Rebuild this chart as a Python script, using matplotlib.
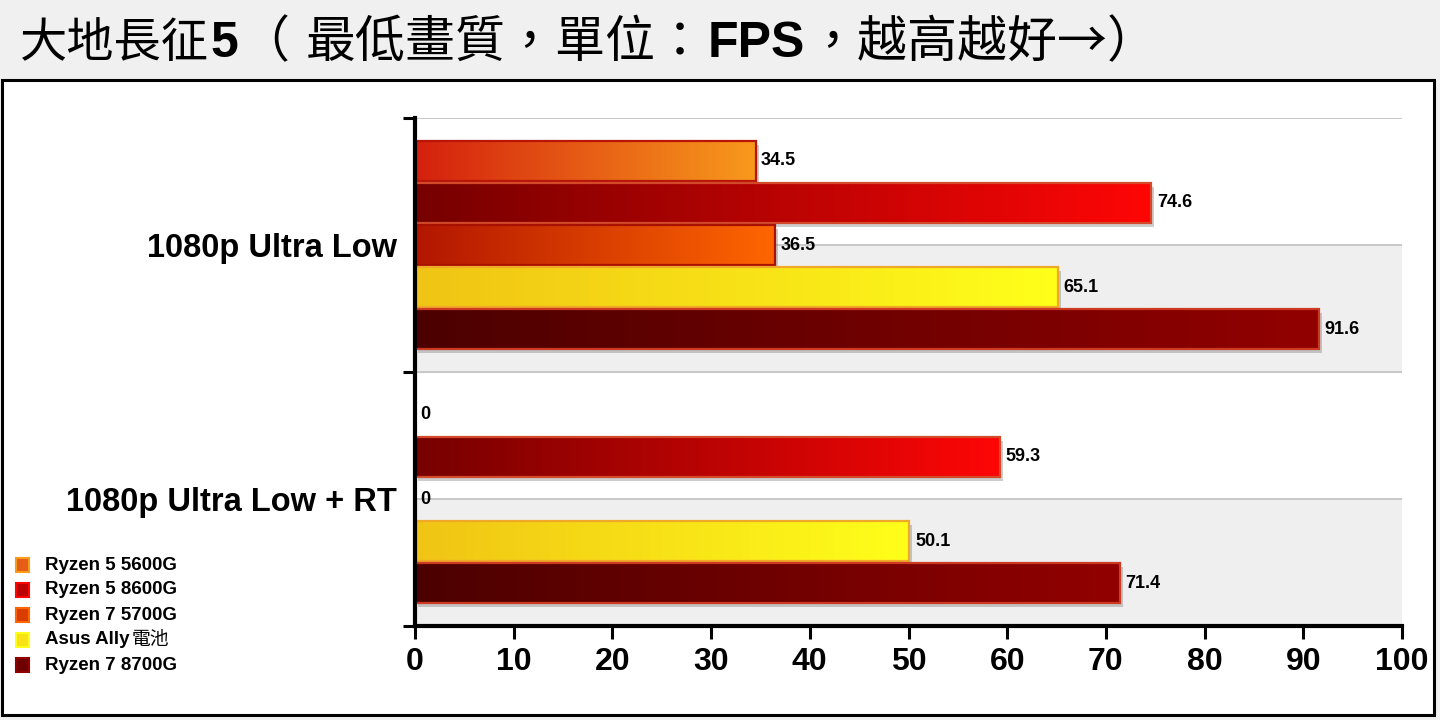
import matplotlib
matplotlib.use('Agg')
import matplotlib.pyplot as plt
import numpy as np
from matplotlib.colors import LinearSegmentedColormap, to_rgb
from matplotlib.patches import Rectangle
from matplotlib.transforms import ScaledTranslation

LATIN = 'Liberation Sans'
CJK = 'Noto Sans CJK TC'
plt.rcParams['font.family'] = [LATIN, CJK]

W, H = 1440, 720

# ── data ────────────────────────────────────────────────────────────────
categories = ['1080p Ultra Low', '1080p Ultra Low + RT']
series_names = ['Ryzen 5 5600G', 'Ryzen 5 8600G', 'Ryzen 7 5700G',
                'Asus Ally電池', 'Ryzen 7 8700G']
r5_5600g = [34.5, 0]
r5_8600g = [74.6, 59.3]
r7_5700g = [36.5, 0]
ally_battery = [65.1, 50.1]
r7_8700g = [91.6, 71.4]
series_values = [r5_5600g, r5_8600g, r7_5700g, ally_battery, r7_8700g]
x_ticks = list(range(0, 101, 10))

# gradient left, gradient right, border
styles = [
    ('#d4200e', '#f89a1c', '#b81408'),
    ('#760000', '#ff0606', '#d24a2a'),
    ('#b21600', '#ff6600', '#a81000'),
    ('#f0c414', '#ffff1a', '#f0a828'),
    ('#4c0000', '#920000', '#cc3a22'),
]


def fx(x):
    return x / W


def fy(y):
    return 1 - y / H


fig = plt.figure(figsize=(W / 100, H / 100), dpi=100, facecolor='#f0f0f0')
fig.add_artist(Rectangle((fx(2), fy(715)), fx(1432), 635 / H,
                         transform=fig.transFigure, fc='white', ec='black',
                         lw=2.2, zorder=0))

# ── title (CJK regular, latin bold) ─────────────────────────────────────
title_runs = [
    ('大地長征', 20, 34, CJK, 'normal'),
    ('5', 210, 36, LATIN, 'bold'),
    ('（', 239, 36, CJK, 'normal'),
    ('最低畫質，單位：', 306, 36, CJK, 'normal'),
    ('FPS', 708, 36, LATIN, 'bold'),
    ('，越高越好→）', 807, 36, CJK, 'normal'),
]
for txt, x, size, fam, wt in title_runs:
    fig.text(fx(x), fy(57), txt, fontsize=size, family=fam, fontweight=wt,
             va='baseline', ha='left')

# ── axes ────────────────────────────────────────────────────────────────
ax = fig.add_axes([fx(415), fy(626), 987 / W, 508 / H])
ax.set_facecolor('none')

ax.axhspan(0, 0.5, color='#efefef', zorder=0)
ax.axhspan(1.0, 1.5, color='#efefef', zorder=0)
for g in [-0.5, 0, 0.5, 1.0]:
    ax.axhline(g, color='#c4c4c4', lw=1.3, zorder=0.5)

n = len(series_names)
pitch = 0.166
bar_h = 0.158
y_base = np.arange(len(categories))
shadow_off = ScaledTranslation(0.03, -0.04, fig.dpi_scale_trans)
grad = np.linspace(0, 1, 256).reshape(1, -1)

for j, (vals, (c0, c1, ec)) in enumerate(zip(series_values, styles)):
    ys = y_base + (j - (n - 1) / 2) * pitch
    bars = ax.barh(ys, vals, height=bar_h, color='none', edgecolor=ec,
                   lw=1.6, zorder=4)
    cmap = LinearSegmentedColormap.from_list(f'grad{j}', [c0, c1])
    for bar, v, y in zip(bars, vals, ys):
        if v > 0:
            x0, y0 = bar.get_x(), bar.get_y()
            w, h = bar.get_width(), bar.get_height()
            ax.add_patch(Rectangle((x0, y0), w, h,
                                   transform=ax.transData + shadow_off,
                                   fc='#707070', alpha=0.35, ec='none', zorder=2))
            im = ax.imshow(grad, cmap=cmap, extent=(x0, x0 + w, y0 + h, y0),
                           aspect='auto', interpolation='bilinear', zorder=3)
            im.set_clip_path(bar)
        else:
            bar.set_visible(False)
        ax.annotate(f'{v:g}', (v, y), xytext=(4, 0), textcoords='offset points',
                    va='center', ha='left', fontsize=13, fontweight='bold')

ax.set_xlim(0, 100)
ax.set_ylim(1.5, -0.5)

for s in ['top', 'right']:
    ax.spines[s].set_visible(False)
for s in ['left', 'bottom']:
    ax.spines[s].set_linewidth(3)
    ax.spines[s].set_zorder(6)

ax.set_xticks(x_ticks)
ax.set_xticklabels([str(t) for t in x_ticks], fontsize=23, fontweight='bold')
ax.tick_params(axis='x', length=9, width=2.2, pad=6)

ax.set_yticks([-0.5, 0.5, 1.5])
ax.set_yticklabels([])
ax.tick_params(axis='y', which='major', length=9, width=2.2)
ax.set_yticks(y_base, minor=True)
ax.set_yticklabels(categories, minor=True, fontsize=23.5, fontweight='bold')
ax.tick_params(axis='y', which='minor', length=0, pad=13)

# ── legend (bottom left) ────────────────────────────────────────────────
renderer = fig.canvas.get_renderer()
for j, (name, (c0, c1, ec)) in enumerate(zip(series_names, styles)):
    yc = 565 + j * 25
    mid = tuple((np.array(to_rgb(c0)) + np.array(to_rgb(c1))) / 2)
    fig.add_artist(Rectangle((fx(16), fy(yc + 7)), 13 / W, 14 / H,
                             transform=fig.transFigure, fc=mid, ec=c1, lw=1.5))
    if name.endswith('電池'):
        t = fig.text(fx(45), fy(yc), name[:-2], fontsize=13.5,
                     fontweight='bold', va='center')
        wpx = t.get_window_extent(renderer).width
        fig.text(fx(45 + wpx + 2), fy(yc), name[-2:], fontsize=13.5,
                 family=CJK, va='center')
    else:
        fig.text(fx(45), fy(yc), name, fontsize=13.5, fontweight='bold',
                 va='center')

fig.savefig('out.png', dpi=100, facecolor=fig.get_facecolor())
